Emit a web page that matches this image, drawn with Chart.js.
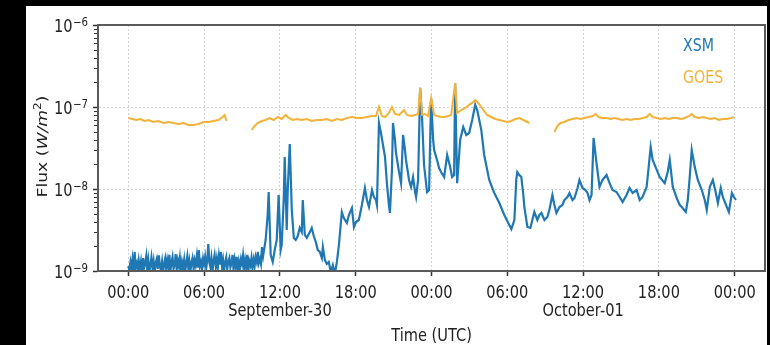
<!DOCTYPE html>
<html>
<head>
<meta charset="utf-8">
<script src="https://cdn.jsdelivr.net/npm/chart.js@4/dist/chart.umd.min.js"></script>
<style>
html, body { margin: 0; padding: 0; background: #000; width: 770px; height: 345px; overflow: hidden; }
#panel { position: absolute; left: 26px; top: 6px; width: 741px; height: 339px; background: #fff; }
canvas { display: block; }
</style>
</head>
<body>
<div id="panel"><canvas id="flux" width="741" height="339"></canvas></div>
<script>
// Time axis: hours since September-30 00:00 UTC
const xTickHours = [0, 6, 12, 18, 24, 30, 36, 42, 48];
const xTickLabels = ['00:00', '06:00', '12:00', '18:00', '00:00', '06:00', '12:00', '18:00', '00:00'];
const dateLabelHours = [12, 36];
const dateLabelTexts = ['September-30', 'October-01'];

// Flux axis decades (W/m^2) and their exponents
const yDecades = [1e-9, 1e-8, 1e-7, 1e-6];
const yExponents = [-9, -8, -7, -6];

// XSM soft X-ray flux, in nW/m^2
const xsmHours = [
  0, 0.08, 0.17, 0.25, 0.33, 0.42, 0.5, 0.58, 0.67, 0.75, 0.83, 0.92,
  1, 1.08, 1.17, 1.25, 1.33, 1.42, 1.5, 1.58, 1.67, 1.75, 1.83, 1.92,
  2, 2.08, 2.17, 2.25, 2.33, 2.42, 2.5, 2.58, 2.67, 2.75, 2.83, 2.92,
  3, 3.08, 3.17, 3.25, 3.33, 3.42, 3.5, 3.58, 3.67, 3.75, 3.83, 3.92,
  4, 4.08, 4.17, 4.25, 4.33, 4.42, 4.5, 4.58, 4.67, 4.75, 4.83, 4.92,
  5, 5.08, 5.17, 5.25, 5.33, 5.42, 5.5, 5.58, 5.67, 5.75, 5.83, 5.92,
  6, 6.08, 6.17, 6.25, 6.33, 6.42, 6.5, 6.58, 6.67, 6.75, 6.83, 6.92,
  7, 7.08, 7.17, 7.25, 7.33, 7.42, 7.5, 7.58, 7.67, 7.75, 7.83, 7.92,
  8, 8.08, 8.17, 8.25, 8.33, 8.42, 8.5, 8.58, 8.67, 8.75, 8.83, 8.92,
  9, 9.08, 9.17, 9.25, 9.33, 9.42, 9.5, 9.58, 9.67, 9.75, 9.83, 9.92,
  10, 10.08, 10.17, 10.25, 10.33, 10.42, 10.5, 10.58, 10.67,
  10.87, 11.03, 11.11, 11.27, 11.43, 11.59, 11.75, 11.90, 12.06, 12.14,
  12.30, 12.38, 12.54, 12.62, 12.78, 12.94, 13.10, 13.25, 13.41, 13.57,
  13.73, 13.81, 13.97, 14.13, 14.37, 14.52, 14.68, 14.84, 15.00, 15.16,
  15.32, 15.40, 15.56, 15.71, 15.87, 16.03, 16.19, 16.35, 16.51, 16.67,
  16.83, 16.90, 17.06, 17.30, 17.46, 17.70, 17.86, 18.02, 18.25, 18.49,
  18.73, 18.89, 19.05, 19.29, 19.44, 19.60, 19.68, 19.84, 20.00, 20.16,
  20.32, 20.48, 20.63, 20.71, 20.87, 20.95, 21.11, 21.19, 21.43, 21.59,
  21.75, 21.90, 21.98, 22.22, 22.38, 22.54, 22.70, 22.78, 22.94, 23.10,
  23.25, 23.41, 23.65, 23.81, 23.97, 24.13, 24.21, 24.44, 24.60, 24.76,
  25.00, 25.24, 25.48, 25.63, 25.79, 25.87, 26.03, 26.27, 26.51, 26.75,
  26.98, 27.22, 27.46, 27.62, 27.94, 28.17, 28.57, 28.97, 29.37, 29.76,
  30.16, 30.32, 30.56, 30.71, 30.79, 30.95, 31.11, 31.27, 31.35, 31.59,
  31.83, 31.98, 32.14, 32.38, 32.54, 32.70, 32.94, 33.17, 33.33, 33.57,
  33.73, 33.89, 34.13, 34.37, 34.52, 34.76, 34.92, 35.16, 35.32, 35.56,
  35.71, 35.95, 36.19, 36.35, 36.51, 36.67, 36.83, 37.06, 37.30, 37.54,
  37.86, 38.10, 38.33, 38.65, 38.89, 39.13, 39.44, 39.68, 39.92, 40.24,
  40.48, 40.71, 41.03, 41.19, 41.35, 41.51, 41.83, 42.06, 42.46, 42.70,
  42.86, 43.10, 43.41, 43.65, 43.81, 44.13, 44.29, 44.44, 44.60, 44.84,
  45.08, 45.40, 45.63, 45.79, 46.03, 46.27, 46.51, 46.67, 46.90, 47.06,
  47.38, 47.54, 47.78, 47.94, 48.10
];
const xsmFluxNW = [
  1.15, 1.02, 1.29, 1.08, 1.38, 0.97, 1.71, 1.12, 1.25, 0.98, 1.33, 1.05,
  1.29, 0.96, 1.44, 1.10, 1.22, 1.52, 1.03, 1.36, 0.99, 1.18, 1.47, 1.08,
  1.32, 0.97, 1.26, 1.40, 1.06, 1.55, 1.14, 1.02, 1.30, 0.95, 1.21, 1.42,
  1.05, 1.36, 1.12, 1.58, 1.00, 1.27, 1.48, 1.07, 1.19, 1.61, 1.03, 1.34,
  1.15, 1.45, 0.98, 1.29, 1.11, 1.38, 0.96, 1.24, 1.52, 1.09, 1.33, 1.01,
  1.26, 1.44, 1.06, 1.35, 1.18, 1.52, 1.10, 1.80, 1.16, 1.29, 1.04, 1.42,
  1.22, 1.48, 1.09, 1.37, 2.13, 1.25, 1.12, 1.44, 1.02, 1.33, 1.57, 1.15,
  1.40, 1.08, 1.52, 1.20, 1.71, 1.13, 1.36, 1.00, 1.28, 1.46, 1.06, 1.31,
  1.44, 1.11, 1.25, 1.57, 1.03, 1.38, 1.15, 1.49, 1.02, 1.30, 1.09, 1.40,
  1.22, 1.55, 1.07, 1.36, 1.12, 1.57, 1.00, 1.32, 1.18, 1.44, 1.08, 1.37,
  1.15, 1.48, 1.29, 1.71, 1.25, 1.40, 1.22, 1.96, 1.52,
  2.39, 4.82, 9.19, 1.57, 1.29, 1.80, 2.39, 8.45, 1.80, 2.07,
  7.34, 24.6, 3.16, 9.72, 35.4, 5.54, 2.53, 2.39, 2.67, 3.35,
  2.99, 7.34, 2.75, 2.53, 2.99, 3.35, 2.67, 2.26, 1.80, 1.71,
  1.44, 1.96, 1.36, 1.22, 1.29, 0.97, 1.18, 0.92, 1.29, 2.07,
  3.96, 5.24, 4.43, 3.85, 4.82, 5.86, 3.44, 3.96, 4.19, 6.38,
  10.3, 7.34, 6.03, 9.72, 7.99, 7.34, 6.38, 63.8, 48.2, 34.4,
  24.6, 11.2, 6.38, 5.10, 17.1, 63.8, 39.6, 27.5, 16.1, 11.8,
  45.6, 29.9, 22.6, 12.9, 10.6, 14.0, 9.19, 7.99, 12.9, 171,
  75.5, 19.6, 9.19, 9.72, 129, 39.6, 29.9, 22.6, 18.0, 16.1,
  14.0, 26.0, 18.5, 14.0, 14.8, 196, 11.8, 39.6, 57.0, 45.6,
  48.2, 69.4, 106, 91.9, 52.5, 26.0, 12.9, 8.94, 6.75, 4.82,
  3.64, 3.25, 4.19, 12.9, 16.1, 14.8, 14.0, 8.45, 6.03, 3.44,
  3.35, 4.19, 5.24, 4.19, 4.82, 5.10, 4.19, 4.56, 5.54, 8.45,
  6.38, 5.10, 6.03, 6.38, 7.34, 7.99, 8.94, 7.34, 7.77, 10.3,
  12.9, 10.3, 9.72, 8.94, 7.34, 8.45, 41.9, 20.8, 10.6, 12.9,
  14.8, 11.8, 9.72, 9.19, 7.99, 6.94, 8.45, 10.3, 8.94, 9.72,
  7.34, 7.99, 10.6, 18.5, 32.5, 22.6, 17.1, 14.0, 11.8, 16.1,
  22.6, 10.6, 7.77, 6.38, 6.03, 5.24, 7.34, 14.0, 29.9, 18.5,
  12.9, 9.72, 7.34, 5.54, 10.6, 12.9, 8.94, 6.75, 10.3, 7.99,
  6.03, 5.24, 8.94, 7.99, 7.34
];

// GOES flux, in nW/m^2 (null marks data gaps)
const goesHours = [
  0, 0.32, 0.63, 0.95, 1.27, 1.59, 1.98, 2.38, 2.78, 3.17,
  3.57, 3.97, 4.37, 4.76, 5.16, 5.56, 5.95, 6.35, 6.75, 7.14,
  7.46, 7.62, 7.78, 8.5, 9.76, 10.00, 10.24, 10.56, 10.87, 11.19,
  11.51, 11.83, 12.14, 12.46, 12.70, 13.02, 13.33, 13.73, 14.13, 14.52,
  14.92, 15.32, 15.71, 16.11, 16.51, 16.90, 17.30, 17.70, 18.10, 18.49,
  18.89, 19.29, 19.60, 19.84, 20.08, 20.32, 20.63, 20.87, 21.11, 21.43,
  21.67, 21.83, 22.06, 22.38, 22.70, 22.94, 23.10, 23.25, 23.49, 23.73,
  23.97, 24.21, 24.44, 24.76, 25.00, 25.32, 25.56, 25.87, 26.03, 26.35,
  26.67, 26.98, 27.22, 27.46, 27.70, 27.94, 28.17, 28.41, 28.73, 29.05,
  29.37, 29.68, 30.00, 30.32, 30.63, 30.95, 31.27, 31.59, 31.75, 32.7,
  33.73, 33.97, 34.21, 34.52, 34.84, 35.16, 35.48, 35.79, 36.11, 36.43,
  36.75, 36.98, 37.22, 37.54, 37.86, 38.17, 38.49, 38.81, 39.13, 39.44,
  39.76, 40.08, 40.40, 40.71, 41.03, 41.27, 41.51, 41.83, 42.14, 42.46,
  42.78, 43.10, 43.41, 43.73, 44.05, 44.37, 44.60, 44.84, 45.16, 45.48,
  45.79, 46.11, 46.43, 46.75, 47.06, 47.38, 47.70, 47.94
];
const goesFluxNW = [
  73.4, 71.4, 69.4, 71.4, 67.5, 69.4, 65.6, 67.5, 63.8, 65.6,
  63.8, 62.1, 63.8, 60.3, 60.3, 62.1, 65.6, 65.6, 67.5, 69.4,
  75.5, 79.9, 67.5, null, 52.5, 58.7, 63.8, 67.5, 69.4, 73.4,
  69.4, 75.5, 71.4, 79.9, 73.4, 69.4, 71.4, 69.4, 71.4, 67.5,
  69.4, 69.4, 71.4, 67.5, 71.4, 69.4, 73.4, 75.5, 73.4, 73.4,
  75.5, 77.6, 77.6, 100, 77.6, 75.5, 84.5, 100, 82.2, 79.9,
  86.9, 91.9, 79.9, 77.6, 79.9, 82.2, 171, 79.9, 82.2, 77.6,
  129, 79.9, 77.6, 75.5, 75.5, 77.6, 79.9, 196, 84.5, 91.9,
  97.2, 106, 112, 122, 112, 100, 89.4, 79.9, 75.5, 71.4,
  69.4, 67.5, 65.6, 67.5, 71.4, 73.4, 69.4, 65.6, 63.8, null,
  49.6, 58.7, 63.8, 65.6, 69.4, 71.4, 73.4, 71.4, 73.4, 75.5,
  77.6, 82.2, 75.5, 73.4, 73.4, 71.4, 73.4, 71.4, 69.4, 71.4,
  69.4, 71.4, 71.4, 73.4, 75.5, 82.2, 75.5, 73.4, 71.4, 73.4,
  71.4, 73.4, 73.4, 71.4, 73.4, 77.6, 82.2, 75.5, 73.4, 75.5,
  73.4, 71.4, 73.4, 69.4, 71.4, 71.4, 73.4, 75.5
];

const toPoints = (hours, fluxNW) =>
  hours.map((h, i) => ({ x: h, y: fluxNW[i] === null ? null : fluxNW[i] * 1e-9 }));

const FAMILY = '"DejaVu Sans", "Liberation Sans", sans-serif';
const TEXT_COLOR = '#222';
const SPINE_COLOR = '#5a5a5a';
const STRETCH = 1.18; // glyphs are drawn slightly taller than wide

function tallText(ctx, str, x, y, size, opts) {
  opts = opts || {};
  ctx.save();
  ctx.translate(x, y);
  ctx.scale(1, STRETCH);
  ctx.font = (opts.style ? opts.style + ' ' : '') + size + 'px ' + FAMILY;
  ctx.fillStyle = opts.color || TEXT_COLOR;
  ctx.textAlign = opts.align || 'center';
  ctx.textBaseline = 'alphabetic';
  ctx.fillText(str, 0, 0);
  ctx.restore();
}

const decorations = {
  id: 'decorations',
  afterDraw(chart) {
    const { ctx, chartArea: a, scales: { x, y } } = chart;
    ctx.save();

    // frame
    ctx.strokeStyle = SPINE_COLOR;
    ctx.lineWidth = 2;
    ctx.strokeRect(a.left, a.top, a.right - a.left, a.bottom - a.top);

    // minor log ticks on the flux axis
    ctx.strokeStyle = '#333';
    ctx.lineWidth = 1;
    for (let d = 0; d < yDecades.length - 1; d++) {
      for (let k = 2; k <= 9; k++) {
        const py = Math.round(y.getPixelForValue(k * yDecades[d])) + 0.5;
        ctx.beginPath();
        ctx.moveTo(a.left - 4, py);
        ctx.lineTo(a.left - 1, py);
        ctx.stroke();
      }
    }

    // time tick labels and date labels
    xTickHours.forEach((h, i) => {
      tallText(ctx, xTickLabels[i], x.getPixelForValue(h), a.bottom + 26.5, 14.6);
    });
    dateLabelHours.forEach((h, i) => {
      tallText(ctx, dateLabelTexts[i], x.getPixelForValue(h), a.bottom + 45, 14.6);
    });
    tallText(ctx, 'Time (UTC)', (a.left + a.right) / 2, a.bottom + 70, 14.6);

    // flux tick labels: 10 with a raised exponent
    const right = a.left - 10;
    yDecades.forEach((v, i) => {
      const py = y.getPixelForValue(v);
      const sup = '\u2212' + Math.abs(yExponents[i]);
      ctx.font = '10.2px ' + FAMILY;
      const supW = ctx.measureText(sup).width;
      tallText(ctx, sup, right - supW, py + 0.5, 10.2, { align: 'left' });
      tallText(ctx, '10', right - supW - 0.5, py + 6.5, 14.6, { align: 'right' });
    });

    // flux axis title, rotated
    const parts = [
      { t: 'Flux (', f: '14.6px ' + FAMILY, dy: 0 },
      { t: 'W/m', f: 'italic 14.6px ' + FAMILY, dy: 0 },
      { t: '2', f: '10.2px ' + FAMILY, dy: -6 },
      { t: ')', f: '14.6px ' + FAMILY, dy: 0 }
    ];
    let total = 0;
    parts.forEach(p => { ctx.font = p.f; p.w = ctx.measureText(p.t).width; total += p.w; });
    ctx.save();
    ctx.translate(a.left - 51.5, (a.top + a.bottom) / 2 - 1.5);
    ctx.rotate(-Math.PI / 2);
    ctx.scale(STRETCH, 1);
    ctx.fillStyle = TEXT_COLOR;
    ctx.textAlign = 'left';
    ctx.textBaseline = 'alphabetic';
    let cx = -total / 2;
    parts.forEach(p => { ctx.font = p.f; ctx.fillText(p.t, cx, p.dy); cx += p.w; });
    ctx.restore();

    // legend: coloured labels only
    chart.data.datasets.forEach((ds, i) => {
      tallText(ctx, ds.label, a.right - 82, a.top + 25.5 + i * 32, 14.2,
        { align: 'left', color: ds.borderColor });
    });

    ctx.restore();
  }
};

const gridOpts = {
  color: '#d2d2d2',
  lineWidth: 1,
  drawTicks: true,
  tickLength: 5,
  tickColor: '#333',
  tickWidth: 1.5,
  tickBorderDash: []
};
const borderOpts = { display: true, color: SPINE_COLOR, width: 2, dash: [2, 2] };

new Chart(document.getElementById('flux'), {
  type: 'line',
  data: {
    datasets: [
      {
        label: 'XSM',
        data: toPoints(xsmHours, xsmFluxNW),
        borderColor: '#1f77b4',
        borderWidth: 2.2,
        pointRadius: 0,
        tension: 0,
        spanGaps: false,
        clip: 0,
        order: 1
      },
      {
        label: 'GOES',
        data: toPoints(goesHours, goesFluxNW),
        borderColor: '#f3b23a',
        borderWidth: 2,
        pointRadius: 0,
        tension: 0,
        spanGaps: false,
        clip: 0,
        order: 0
      }
    ]
  },
  options: {
    responsive: false,
    animation: false,
    devicePixelRatio: 1,
    layout: { padding: { top: 19, right: 2, left: 0, bottom: 0 } },
    plugins: { legend: { display: false }, tooltip: { enabled: false } },
    scales: {
      x: {
        type: 'linear',
        min: -2.4,
        max: 50.4,
        afterBuildTicks: s => { s.ticks = xTickHours.map(v => ({ value: v })); },
        afterFit: s => { s.height = 74; },
        ticks: { display: false },
        grid: gridOpts,
        border: borderOpts
      },
      y: {
        type: 'logarithmic',
        min: 1e-9,
        max: 1e-6,
        afterBuildTicks: s => { s.ticks = yDecades.map(v => ({ value: v, major: true })); },
        afterFit: s => { s.width = 72; },
        ticks: { display: false },
        grid: gridOpts,
        border: borderOpts
      }
    }
  },
  plugins: [decorations]
});
</script>
</body>
</html>
